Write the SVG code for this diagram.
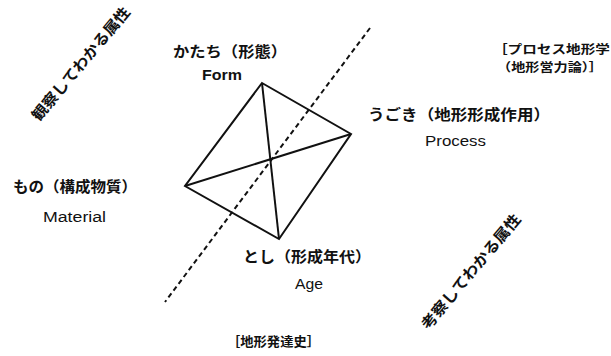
<svg xmlns="http://www.w3.org/2000/svg" width="611" height="356" viewBox="0 0 611 356">
<style>
.jp{font-family:"Noto Sans CJK JP","Noto Sans",sans-serif;font-weight:bold;fill:#111}
.en{font-family:"Liberation Sans","DejaVu Sans",sans-serif;fill:#111}
.edge{stroke:#111;stroke-width:2;fill:none;stroke-linejoin:miter}
.dash{stroke:#111;stroke-width:2;fill:none;stroke-dasharray:5 3.5}
</style>
<rect width="611" height="356" fill="#fff"/>
<g id="connectors">
<line class="dash" x1="370" y1="28" x2="165" y2="302"/>
<polygon class="edge" points="262,83 351,134 279,239 185,186"/>
<line class="edge" x1="262" y1="83" x2="279" y2="239"/>
<line class="edge" x1="185" y1="186" x2="351" y2="134"/>
</g>
<g id="form">
<text class="jp" x="173" y="57" font-size="15" textLength="114" lengthAdjust="spacingAndGlyphs">かたち（形態）</text>
<text class="en" x="202" y="80" font-size="14" font-weight="bold" textLength="40" lengthAdjust="spacingAndGlyphs">Form</text>
</g>
<g id="process">
<text class="jp" x="368" y="120" font-size="15" textLength="182" lengthAdjust="spacingAndGlyphs">うごき（地形形成作用）</text>
<text class="en" x="425" y="146" font-size="14" textLength="61" lengthAdjust="spacingAndGlyphs">Process</text>
</g>
<g id="material">
<text class="jp" x="13" y="192" font-size="15" textLength="124" lengthAdjust="spacingAndGlyphs">もの（構成物質）</text>
<text class="en" x="43" y="222" font-size="14" textLength="63" lengthAdjust="spacingAndGlyphs">Material</text>
</g>
<g id="age">
<text class="jp" x="243" y="262" font-size="15" textLength="128" lengthAdjust="spacingAndGlyphs">とし（形成年代）</text>
<text class="en" x="295" y="289" font-size="14" textLength="28" lengthAdjust="spacingAndGlyphs">Age</text>
</g>
<g id="process-geomorphology">
<text class="jp" x="493" y="54" font-size="12" textLength="117" lengthAdjust="spacingAndGlyphs">［プロセス地形学</text>
<text class="jp" x="497" y="72" font-size="12" textLength="106" lengthAdjust="spacingAndGlyphs">（地形営力論）］</text>
</g>
<g id="landform-history">
<text class="jp" x="227" y="346" font-size="13" textLength="93" lengthAdjust="spacingAndGlyphs">［地形発達史］</text>
</g>
<g id="observed">
<text class="jp" font-size="15" text-anchor="middle" dominant-baseline="central" transform="translate(80,63) rotate(-50)" textLength="143" lengthAdjust="spacingAndGlyphs">観察してわかる属性</text>
</g>
<g id="inferred">
<text class="jp" font-size="15" text-anchor="middle" dominant-baseline="central" transform="translate(470,271) rotate(-50)" textLength="145" lengthAdjust="spacingAndGlyphs">考察してわかる属性</text>
</g>
</svg>
